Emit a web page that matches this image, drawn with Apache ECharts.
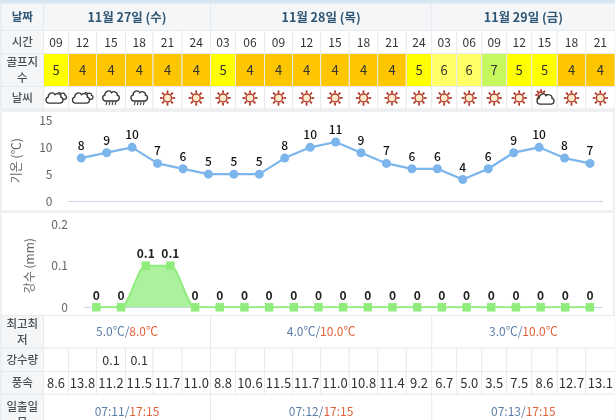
<!DOCTYPE html>
<html>
<head>
<meta charset="utf-8">
<style>
  html, body { margin: 0; padding: 0; background: #fff; }
  #chart { width: 615px; height: 420px; }
</style>
</head>
<body>
<div id="chart"></div>
<script src="https://cdn.jsdelivr.net/npm/echarts@6/dist/echarts.min.js"></script>
<script>
const days = ["11월 27일 (수)", "11월 28일 (목)", "11월 29일 (금)"];
const dayColumns = [6, 8, 7];
const hours = ["09","12","15","18","21","24","03","06","09","12","15","18","21","24","03","06","09","12","15","18","21"];
const golfIndex = [5,4,4,4,4,4,5,4,4,4,4,4,4,5,6,6,7,5,5,4,4];
const weather = ["cloud","cloud","rain","rain","sun","sun","sun","sun","sun","sun","sun","sun","sun","sun","sun","sun","sun","sun","suncloud","sun","sun"];
const temperature = [8,9,10,7,6,5,5,5,8,10,11,9,7,6,6,4,6,9,10,8,7];
const rainfall = [0,0,0.1,0.1,0,0,0,0,0,0,0,0,0,0,0,0,0,0,0,0,0];
const rainLabels = ["","","0.1","0.1","","","","","","","","","","","","","","","","",""];
const windSpeed = ["8.6","13.8","11.2","11.5","11.7","11.0","8.8","10.6","11.5","11.7","11.0","10.8","11.4","9.2","6.7","5.0","3.5","7.5","8.6","12.7","13.1"];
const minTemps = ["5.0℃", "4.0℃", "3.0℃"];
const maxTemps = ["8.0℃", "10.0℃", "10.0℃"];
const sunrise = ["07:11", "07:12", "07:13"];
const sunset = ["17:15", "17:15", "17:15"];

// table layout, page pixels
const colEdges = [43.5,68.5,96.5,125.5,153,182,210.5,235.5,264.5,292.5,320.7,349.3,377.7,406.3,431.7,456.7,481.7,506.7,531.7,557.3,585.7,615];
const FONT = "'Noto Sans CJK KR', 'Noto Sans', sans-serif";
const golfColors = { 4: "#fdc600", 5: "#ffff00", 6: "#ffff66", 7: "#c6f75c" };
const headBg = "#f4f6f8";
const lineColor = "#e8ebee";

const cells = [];
function cell(x0, x1, y0, y1, fill, text, opts) {
  cells.push(Object.assign({ kind: "cell", x0, x1, y0, y1, fill, text }, opts));
}
function label(y0, y1, text) {
  cell(1, colEdges[0], y0, y1, headBg, text, { color: "#4a4f54", weight: 500, size: 11.5 });
}
function dayEdges(i) {
  const start = dayColumns.slice(0, i).reduce((a, b) => a + b, 0);
  return [colEdges[start], colEdges[start + dayColumns[i]]];
}

cell(0, 615, 0, 420, "#eef0f1", "", { noStroke: true });
cell(0, 615, 0, 3, "#d6e6f3", "", { noStroke: true });
cell(2, 613, 112, 210, "#fff", "", { noStroke: true });
cell(2, 613, 213, 315, "#fff", "", { noStroke: true });

cell(1, colEdges[0], 3.5, 30.5, headBg, "날짜", { color: "#2e5573", weight: 700, size: 11.5 });
days.forEach((d, i) => {
  const [a, b] = dayEdges(i);
  cell(a, b, 3.5, 30.5, headBg, d, { color: "#2e5573", weight: 700, size: 12.5 });
});

label(30.5, 53.5, "시간");
label(53.5, 86.5, "골프지\n수");
label(86.5, 109, "날씨");
hours.forEach((h, i) => {
  const a = colEdges[i], b = colEdges[i + 1];
  cell(a, b, 30.5, 53.5, "#fff", h);
  cell(a, b, 53.5, 86.5, golfColors[golfIndex[i]], String(golfIndex[i]), { size: 13 });
  cell(a, b, 86.5, 109, "#fff", "");
  cells.push({ kind: "icon", type: weather[i], x: (a + b) / 2, y: 98 });
});

label(315.5, 348, "최고최\n저");
label(348, 371.5, "강수량");
label(371.5, 394, "풍속");
label(394, 436, "일출일\n몰");
days.forEach((d, i) => {
  const [a, b] = dayEdges(i);
  cell(a, b, 315.5, 348, "#fff", `{a|${minTemps[i]}/}{b|${maxTemps[i]}}`, { rich: true });
  cell(a, b, 394, 436, "#fff", `{a|${sunrise[i]}/}{b|${sunset[i]}}`, { rich: true, textY: 411 });
});
hours.forEach((h, i) => {
  const a = colEdges[i], b = colEdges[i + 1];
  cell(a, b, 348, 371.5, "#fff", rainLabels[i], { size: 12.5 });
  cell(a, b, 371.5, 394, "#fff", windSpeed[i], { size: 13 });
});

const CLOUD_PATH = "M5 16 C1 16 0 10 4 9 C4 4 10 2 12 6 C15 3 20 6 19 9 C23 10 22 16 18 16 Z";

function sunIcon(x, y, r) {
  const kids = [];
  for (let k = 0; k < 8; k++) {
    const t = k * Math.PI / 4;
    kids.push({
      type: "line",
      shape: { x1: x + Math.cos(t) * r * 1.2, y1: y + Math.sin(t) * r * 1.2, x2: x + Math.cos(t) * r * 1.9, y2: y + Math.sin(t) * r * 1.9 },
      style: { stroke: "#a8321f", lineWidth: 1.7 }
    });
  }
  kids.push({ type: "circle", shape: { cx: x, cy: y, r: r }, style: { fill: "#fdeacb", stroke: "#b53a2a", lineWidth: 1.4 } });
  return kids;
}
function cloudIcon(x, y, w, h) {
  return {
    type: "path",
    shape: { pathData: CLOUD_PATH, x: x - w / 2, y: y - h / 2, width: w, height: h },
    style: { fill: "#fff", stroke: "#333", lineWidth: 1.3 }
  };
}
function iconChildren(c) {
  if (c.type === "sun") return sunIcon(c.x, c.y, 4);
  if (c.type === "suncloud") return sunIcon(c.x - 3.5, c.y - 3, 3).concat([cloudIcon(c.x + 1, c.y + 1, 17, 11)]);
  if (c.type === "cloud") {
    return [
      cloudIcon(c.x + 5, c.y - 2, 11, 8),
      cloudIcon(c.x - 1.5, c.y, 17, 11)
    ];
  }
  const kids = [cloudIcon(c.x, c.y - 2, 18, 10)];
  [-5, -2, 1, 4].forEach(dx => {
    kids.push({
      type: "line",
      shape: { x1: c.x + dx + 1, y1: c.y + 3.5, x2: c.x + dx, y2: c.y + 7 },
      style: { stroke: "#444", lineWidth: 1.1 }
    });
  });
  return kids;
}

function renderCell(params, api) {
  const c = cells[params.dataIndex];
  if (c.kind === "icon") {
    return { type: "group", silent: true, children: iconChildren(c) };
  }
  const p0 = api.coord([c.x0, c.y0]);
  const p1 = api.coord([c.x1, c.y1]);
  const children = [{
    type: "rect",
    shape: { x: p0[0], y: p0[1], width: p1[0] - p0[0], height: p1[1] - p0[1] },
    style: { fill: c.fill, stroke: c.noStroke ? null : lineColor, lineWidth: 1 }
  }];
  if (c.text) {
    const size = c.size || 12;
    const style = {
      text: c.text,
      x: (p0[0] + p1[0]) / 2,
      y: c.textY || (p0[1] + p1[1]) / 2,
      align: "center",
      verticalAlign: "middle",
      fill: c.color || "#333",
      fontFamily: FONT,
      fontSize: size,
      fontWeight: c.weight || 400,
      lineHeight: 16
    };
    if (c.rich) {
      style.rich = {
        a: { fill: "#5b7ea8", fontFamily: FONT, fontSize: 12 },
        b: { fill: "#e0623c", fontFamily: FONT, fontSize: 12 }
      };
    }
    children.push({ type: "text", style });
  }
  return { type: "group", silent: true, children };
}

const chart = echarts.init(document.getElementById("chart"), null, { renderer: "canvas" });
chart.setOption({
  animation: false,
  textStyle: { fontFamily: FONT },
  grid: [
    { left: 68.5, right: 12.3, top: 120.5, height: 80.5, containLabel: false },
    { left: 84, right: 12.7, top: 224, height: 83.3, containLabel: false },
    { left: 0, right: 0, top: 0, bottom: 0 }
  ],
  xAxis: [
    {
      gridIndex: 0, type: "category", data: hours.map((h, i) => i),
      axisTick: { show: false }, axisLabel: { show: false },
      axisLine: { lineStyle: { color: "#ccd6eb" } }
    },
    {
      gridIndex: 1, type: "category", data: hours.map((h, i) => i),
      axisTick: { show: false }, axisLabel: { show: false },
      axisLine: { lineStyle: { color: "#ccd6eb" } }
    },
    { gridIndex: 2, type: "value", min: 0, max: 615, show: false }
  ],
  yAxis: [
    {
      gridIndex: 0, type: "value", min: 0, max: 15, interval: 5,
      name: "기온 (℃)", nameLocation: "middle", nameGap: 46,
      nameTextStyle: { color: "#666", fontSize: 12, fontFamily: FONT },
      axisLabel: { color: "#666", fontSize: 12, margin: 16 },
      axisLine: { show: false }, axisTick: { show: false },
      splitLine: { lineStyle: { color: "#e6e6e6" } }
    },
    {
      gridIndex: 1, type: "value", min: 0, max: 0.2, interval: 0.1,
      name: "강수 (mm)", nameLocation: "middle", nameGap: 49,
      nameTextStyle: { color: "#666", fontSize: 12, fontFamily: FONT },
      axisLabel: { color: "#666", fontSize: 12, margin: 16 },
      axisLine: { show: false }, axisTick: { show: false },
      splitLine: { lineStyle: { color: "#e6e6e6" } }
    },
    { gridIndex: 2, type: "value", min: 0, max: 420, inverse: true, show: false }
  ],
  series: [
    {
      type: "custom",
      xAxisIndex: 2,
      yAxisIndex: 2,
      z: 0,
      silent: true,
      clip: false,
      data: cells.map((c, i) => [i, 0]),
      renderItem: renderCell
    },
    {
      type: "line",
      name: "기온",
      xAxisIndex: 0,
      yAxisIndex: 0,
      z: 5,
      data: temperature,
      symbol: "circle",
      symbolSize: 9,
      lineStyle: { color: "#7cb5ec", width: 2.2 },
      itemStyle: { color: "#7cb5ec" },
      label: { show: true, position: "top", distance: 2, color: "#111", fontSize: 12, fontWeight: 500, fontFamily: FONT }
    },
    {
      type: "line",
      name: "강수",
      xAxisIndex: 1,
      yAxisIndex: 1,
      z: 5,
      data: rainfall,
      smooth: 0.25,
      symbol: "rect",
      symbolSize: 8.5,
      lineStyle: { color: "#90ed7d", width: 2 },
      itemStyle: { color: "#90ed7d" },
      areaStyle: { color: "#90ed7d", opacity: 0.75 },
      label: { show: true, position: "top", distance: 2, color: "#222", fontSize: 12, fontWeight: 700, fontFamily: FONT }
    }
  ]
});
</script>
</body>
</html>
